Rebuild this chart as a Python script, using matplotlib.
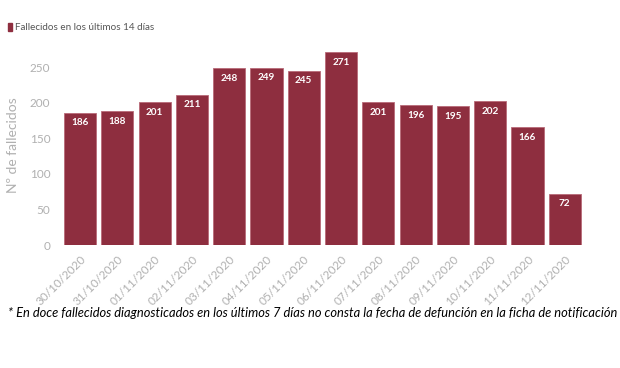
import matplotlib.pyplot as plt
import numpy as np

plt.rcParams['font.family'] = ['Lato', 'DejaVu Sans']

fechas = ['30/10/2020', '31/10/2020', '01/11/2020', '02/11/2020', '03/11/2020',
          '04/11/2020', '05/11/2020', '06/11/2020', '07/11/2020', '08/11/2020',
          '09/11/2020', '10/11/2020', '11/11/2020', '12/11/2020']
fallecidos = [186, 188, 201, 211, 248, 249, 245, 271, 201, 196, 195, 202, 166, 72]

color_barra = '#8E2E3F'
gris = '#b0b0b0'

fig = plt.figure(figsize=(6.2, 3.68), dpi=100)
ax = fig.add_axes([0.099, 0.334, 0.842, 0.542])

pos = np.arange(len(fechas))
bars = ax.bar(pos, fallecidos, width=0.86, color=color_barra,
              edgecolor='#b86a78', linewidth=0.6)

for p, v in zip(pos, fallecidos):
    ax.text(p, v - 8, str(v), ha='center', va='top', color='white',
            fontsize=7.2, fontweight='bold')

ax.set_xlim(-0.5, len(fechas) - 0.5)
ax.set_ylim(0, 280)
ax.set_yticks([0, 50, 100, 150, 200, 250])
ax.set_xticks(pos)
ax.set_xticklabels(fechas, rotation=45, ha='right', rotation_mode='anchor')
ax.tick_params(axis='both', length=0, labelsize=8.5, labelcolor=gris)
ax.tick_params(axis='x', pad=6)
ax.tick_params(axis='y', pad=8)
ax.set_ylabel('Nº de fallecidos', color=gris, fontsize=10, labelpad=8)

for s in ax.spines.values():
    s.set_visible(False)

# leyenda
fig.patches.append(plt.Rectangle((8 / 620, 1 - 31 / 368), 4 / 620, 8 / 368,
                                 transform=fig.transFigure, color=color_barra))
fig.text(15 / 620, 1 - 27 / 368, 'Fallecidos en los últimos 14 días',
         fontsize=7.1, color='#555555', va='center')

fig.text(8 / 620, 1 - 313 / 368,
         '* En doce fallecidos diagnosticados en los últimos 7 días no consta la fecha de defunción en la ficha de notificación',
         fontsize=9.3, style='italic', color='black', va='center')

fig.savefig('out.png', dpi=100)
